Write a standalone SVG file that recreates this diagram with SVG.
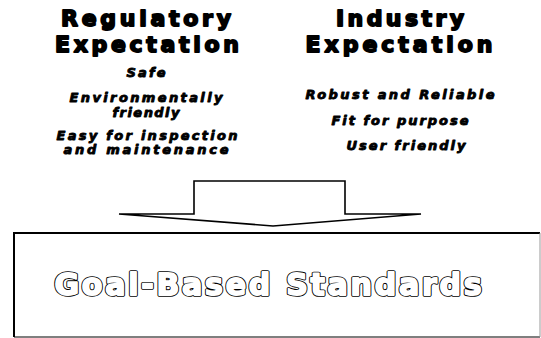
<svg xmlns="http://www.w3.org/2000/svg" width="541" height="338" viewBox="0 0 541 338">
  <style>
    .head { font-family: "DejaVu Sans", "Liberation Sans", sans-serif; font-weight: bold; font-size: 22px; fill: #000; stroke: #000; stroke-width: 1.8; stroke-linejoin: round; text-anchor: middle; }
    .item { font-family: "DejaVu Sans", "Liberation Sans", sans-serif; font-weight: bold; font-style: italic; font-size: 13px; fill: #000; stroke: #000; stroke-width: 0.9; stroke-linejoin: round; text-anchor: middle; }
    .goal { font-family: "DejaVu Sans", "Liberation Sans", sans-serif; font-weight: bold; font-size: 30px; text-anchor: middle; stroke-linejoin: round; }
    .goal-outline { fill: #000; stroke: #000; stroke-width: 3.6; }
    .goal-face { fill: #fff; stroke: #fff; stroke-width: 1.8; }
    .line { fill: #fff; stroke: #000; stroke-width: 1.6; }
  </style>
  <defs>
    <!-- Outlined title: thick black stroke underneath, white face on top -->
    <text id="goal-text" class="goal" x="268" y="295" textLength="427" lengthAdjust="spacing">Goal-Based Standards</text>
  </defs>
  <rect width="541" height="338" fill="#fff"/>

  <g id="regulatory">
    <text class="head" x="146" y="26" textLength="170" lengthAdjust="spacing">Regulatory</text>
    <text class="head" x="147" y="52" textLength="184" lengthAdjust="spacing">Expectation</text>
    <text class="item" x="146" y="77" textLength="39" lengthAdjust="spacing">Safe</text>
    <text class="item" x="146" y="102" textLength="153" lengthAdjust="spacing">Environmentally</text>
    <text class="item" x="146" y="117" textLength="67" lengthAdjust="spacing">friendly</text>
    <text class="item" x="147" y="140" textLength="181" lengthAdjust="spacing">Easy for inspection</text>
    <text class="item" x="146" y="154" textLength="165" lengthAdjust="spacing">and maintenance</text>
  </g>

  <g id="industry">
    <text class="head" x="400" y="26" textLength="128" lengthAdjust="spacing">Industry</text>
    <text class="head" x="399" y="52" textLength="187" lengthAdjust="spacing">Expectation</text>
    <text class="item" x="400" y="99" textLength="189" lengthAdjust="spacing">Robust and Reliable</text>
    <text class="item" x="400" y="125" textLength="137" lengthAdjust="spacing">Fit for purpose</text>
    <text class="item" x="406" y="150" textLength="119" lengthAdjust="spacing">User friendly</text>
  </g>

  <g id="connectors">
    <path class="line" d="M194,214 L194,181 L345,181 L345,214 L421,214 L273,226 L119,214 Z"/>
  </g>

  <g id="goal-based-standards">
    <path d="M14,337 L14,233 L540,233" fill="none" stroke="#000" stroke-width="2"/>
    <path d="M14,337 L540,337" fill="none" stroke="#000" stroke-width="1.2"/>
    <path d="M540,233 L540,337" fill="none" stroke="#999" stroke-width="1"/>
    <use href="#goal-text" class="goal-outline"/>
    <use href="#goal-text" class="goal-face"/>
  </g>
</svg>
